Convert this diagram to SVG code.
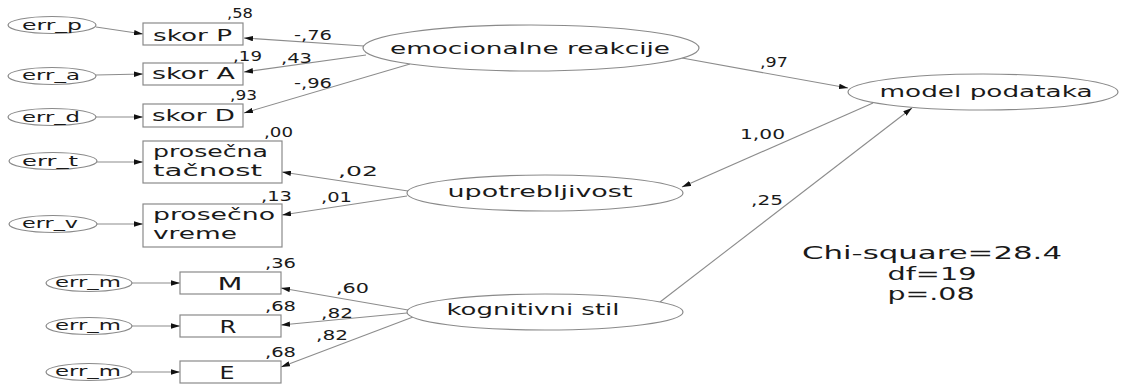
<svg xmlns="http://www.w3.org/2000/svg" width="1124" height="385" viewBox="0 0 1124 385">
  <style>
    .bg { fill: #ffffff; }
    .ell { fill: #ffffff; stroke: #8a8a8a; stroke-width: 1.2; }
    .box { fill: #ffffff; stroke: #8a8a8a; stroke-width: 1.2; }
    .edge { fill: none; stroke: #8c8c8c; stroke-width: 1.1; marker-end: url(#arrow); }
    text { font-family: "DejaVu Sans", "Open Sans", sans-serif; fill: #1a1a1a; }
    .err { font-size: 14px; text-anchor: middle; }
    .lbl { font-size: 15.5px; }
    .ind { font-size: 18px; text-anchor: middle; }
    .lat { font-size: 16.5px; text-anchor: middle; }
    .coef { font-size: 13.5px; }
    .fit { font-size: 17px; text-anchor: middle; }
  </style>
  <defs>
    <marker id="arrow" viewBox="0 0 10 6" refX="10" refY="3" markerWidth="9" markerHeight="5.4" markerUnits="userSpaceOnUse" orient="auto">
      <path d="M0,0 L10,3 L0,6 Z" fill="#111111"/>
    </marker>
  </defs>
  <rect class="bg" x="0" y="0" width="1124" height="385"/>

  <!-- connectors -->
  <g id="connectors">
    <!-- error terms into indicators -->
    <line class="edge" x1="96" y1="27" x2="143" y2="34"/>
    <line class="edge" x1="96" y1="75" x2="143" y2="74"/>
    <line class="edge" x1="96" y1="117" x2="143" y2="117"/>
    <line class="edge" x1="97" y1="162" x2="143" y2="162"/>
    <line class="edge" x1="97" y1="224" x2="143" y2="224"/>
    <line class="edge" x1="132" y1="283" x2="180" y2="283"/>
    <line class="edge" x1="132" y1="326" x2="180" y2="326"/>
    <line class="edge" x1="132" y1="372" x2="180" y2="372"/>
    <!-- emocionalne reakcije loadings -->
    <line class="edge" x1="364" y1="46" x2="244" y2="38"/>
    <line class="edge" x1="366" y1="55" x2="244" y2="72"/>
    <line class="edge" x1="410" y1="64" x2="244" y2="113"/>
    <!-- upotrebljivost loadings -->
    <line class="edge" x1="408" y1="191" x2="282" y2="172"/>
    <line class="edge" x1="407" y1="196" x2="282" y2="215"/>
    <!-- kognitivni stil loadings -->
    <line class="edge" x1="408" y1="310" x2="281" y2="288"/>
    <line class="edge" x1="407" y1="313" x2="281" y2="325"/>
    <line class="edge" x1="413" y1="317" x2="281" y2="367"/>
    <!-- structural paths -->
    <line class="edge" x1="682" y1="58" x2="848" y2="88"/>
    <line class="edge" x1="873" y1="103" x2="682" y2="187"/>
    <line class="edge" x1="660" y1="302" x2="912" y2="108"/>
  </g>

  <!-- error terms -->
  <g id="err_p"><ellipse class="ell" cx="52" cy="25" rx="44" ry="8.5"/><text class="err" x="52" y="30" textLength="60" lengthAdjust="spacingAndGlyphs">err_p</text></g>
  <g id="err_a"><ellipse class="ell" cx="52" cy="76" rx="44" ry="8.5"/><text class="err" x="51" y="80" textLength="58" lengthAdjust="spacingAndGlyphs">err_a</text></g>
  <g id="err_d"><ellipse class="ell" cx="52" cy="117" rx="44" ry="8.5"/><text class="err" x="51" y="122" textLength="58" lengthAdjust="spacingAndGlyphs">err_d</text></g>
  <g id="err_t"><ellipse class="ell" cx="53" cy="161" rx="44" ry="8.5"/><text class="err" x="50" y="166" textLength="56" lengthAdjust="spacingAndGlyphs">err_t</text></g>
  <g id="err_v"><ellipse class="ell" cx="53" cy="224" rx="44" ry="8.5"/><text class="err" x="50" y="228" textLength="56" lengthAdjust="spacingAndGlyphs">err_v</text></g>
  <g id="err_m1"><ellipse class="ell" cx="89" cy="283" rx="43" ry="8.5"/><text class="err" x="88" y="287" textLength="66" lengthAdjust="spacingAndGlyphs">err_m</text></g>
  <g id="err_m2"><ellipse class="ell" cx="89" cy="326" rx="43" ry="8.5"/><text class="err" x="88" y="330" textLength="66" lengthAdjust="spacingAndGlyphs">err_m</text></g>
  <g id="err_m3"><ellipse class="ell" cx="89" cy="372" rx="43" ry="8.5"/><text class="err" x="88" y="376" textLength="66" lengthAdjust="spacingAndGlyphs">err_m</text></g>

  <!-- indicators -->
  <g id="skor_p"><rect class="box" x="143" y="23" width="100" height="22"/><text class="lbl" x="153" y="41" textLength="79" lengthAdjust="spacingAndGlyphs">skor P</text></g>
  <g id="skor_a"><rect class="box" x="143" y="63" width="100" height="22"/><text class="lbl" x="152" y="79" textLength="83" lengthAdjust="spacingAndGlyphs">skor A</text></g>
  <g id="skor_d"><rect class="box" x="143" y="104" width="100" height="23"/><text class="lbl" x="152" y="121" textLength="83" lengthAdjust="spacingAndGlyphs">skor D</text></g>
  <g id="prosecna_tacnost"><rect class="box" x="143" y="141" width="139" height="42"/>
    <text class="lbl" x="153" y="157" textLength="115" lengthAdjust="spacingAndGlyphs">prosečna</text>
    <text class="lbl" x="153" y="176" textLength="109" lengthAdjust="spacingAndGlyphs">tačnost</text></g>
  <g id="prosecno_vreme"><rect class="box" x="143" y="204" width="139" height="43"/>
    <text class="lbl" x="153" y="220" textLength="122" lengthAdjust="spacingAndGlyphs">prosečno</text>
    <text class="lbl" x="153" y="239" textLength="84" lengthAdjust="spacingAndGlyphs">vreme</text></g>
  <g id="m"><rect class="box" x="180" y="272" width="101" height="22"/><text class="ind" x="230" y="290" textLength="25" lengthAdjust="spacingAndGlyphs">M</text></g>
  <g id="r"><rect class="box" x="180" y="315" width="101" height="22"/><text class="ind" x="228" y="333" textLength="17" lengthAdjust="spacingAndGlyphs">R</text></g>
  <g id="e"><rect class="box" x="180" y="361" width="101" height="22"/><text class="ind" x="227" y="379" textLength="15" lengthAdjust="spacingAndGlyphs">E</text></g>

  <!-- latent factors -->
  <g id="emocionalne_reakcije"><ellipse class="ell" cx="531" cy="48" rx="168" ry="23"/><text class="lat" x="530" y="54" textLength="280" lengthAdjust="spacingAndGlyphs">emocionalne reakcije</text></g>
  <g id="upotrebljivost"><ellipse class="ell" cx="545" cy="193" rx="138" ry="18"/><text class="lat" x="540" y="197" textLength="185" lengthAdjust="spacingAndGlyphs">upotrebljivost</text></g>
  <g id="kognitivni_stil"><ellipse class="ell" cx="545" cy="312" rx="138" ry="18"/><text class="lat" x="533" y="315" textLength="173" lengthAdjust="spacingAndGlyphs">kognitivni stil</text></g>
  <g id="model_podataka"><ellipse class="ell" cx="983" cy="92" rx="135" ry="18"/><text class="lat" x="986" y="97" textLength="213" lengthAdjust="spacingAndGlyphs">model podataka</text></g>

  <!-- coefficients -->
  <g id="coefficients">
    <text class="coef" x="227" y="18" textLength="26" lengthAdjust="spacingAndGlyphs">,58</text>
    <text class="coef" x="233" y="61" textLength="29" lengthAdjust="spacingAndGlyphs">,19</text>
    <text class="coef" x="230" y="100" textLength="27" lengthAdjust="spacingAndGlyphs">,93</text>
    <text class="coef" x="294" y="40" textLength="38" lengthAdjust="spacingAndGlyphs">-,76</text>
    <text class="coef" x="281" y="63" textLength="31" lengthAdjust="spacingAndGlyphs">,43</text>
    <text class="coef" x="294" y="88" textLength="38" lengthAdjust="spacingAndGlyphs">-,96</text>
    <text class="coef" x="264" y="137" textLength="29" lengthAdjust="spacingAndGlyphs">,00</text>
    <text class="coef" x="338" y="176" textLength="40" lengthAdjust="spacingAndGlyphs">,02</text>
    <text class="coef" x="261" y="201" textLength="31" lengthAdjust="spacingAndGlyphs">,13</text>
    <text class="coef" x="321" y="202" textLength="31" lengthAdjust="spacingAndGlyphs">,01</text>
    <text class="coef" x="760" y="67" textLength="28" lengthAdjust="spacingAndGlyphs">,97</text>
    <text class="coef" x="740" y="139" textLength="45" lengthAdjust="spacingAndGlyphs">1,00</text>
    <text class="coef" x="751" y="205" textLength="32" lengthAdjust="spacingAndGlyphs">,25</text>
    <text class="coef" x="265" y="268" textLength="31" lengthAdjust="spacingAndGlyphs">,36</text>
    <text class="coef" x="265" y="311" textLength="31" lengthAdjust="spacingAndGlyphs">,68</text>
    <text class="coef" x="265" y="357" textLength="31" lengthAdjust="spacingAndGlyphs">,68</text>
    <text class="coef" x="336" y="293" textLength="33" lengthAdjust="spacingAndGlyphs">,60</text>
    <text class="coef" x="321" y="318" textLength="32" lengthAdjust="spacingAndGlyphs">,82</text>
    <text class="coef" x="316" y="340" textLength="32" lengthAdjust="spacingAndGlyphs">,82</text>
  </g>

  <!-- fit statistics -->
  <g id="fit">
    <text class="fit" x="932" y="259" textLength="260" lengthAdjust="spacingAndGlyphs">Chi-square=28.4</text>
    <text class="fit" x="932" y="280" textLength="89" lengthAdjust="spacingAndGlyphs">df=19</text>
    <text class="fit" x="931" y="300" textLength="87" lengthAdjust="spacingAndGlyphs">p=.08</text>
  </g>
</svg>
